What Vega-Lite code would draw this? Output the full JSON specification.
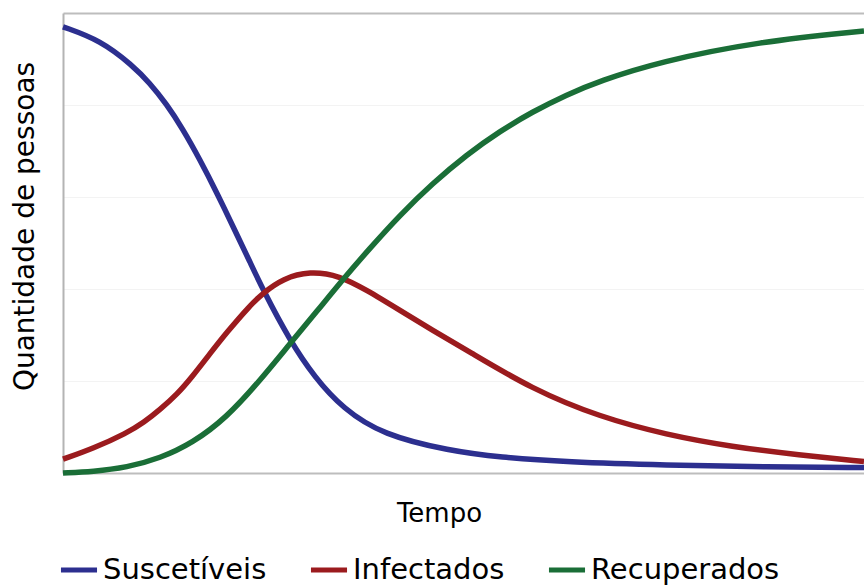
{
  "$schema": "https://vega.github.io/schema/vega-lite/v6.json",
  "width": 801,
  "height": 460,
  "autosize": {"type": "none"},
  "padding": {"left": 63, "top": 13, "right": 0, "bottom": 112},
  "background": "white",
  "config": {
    "view": {"stroke": null},
    "font": "DejaVu Sans"
  },
  "data": {
    "values": [
      {"t": 0.0, "v": 97.0, "g": "Suscetíveis"},
      {"t": 4.6, "v": 94.1, "g": "Suscetíveis"},
      {"t": 8.6, "v": 88.6, "g": "Suscetíveis"},
      {"t": 10.7, "v": 84.8, "g": "Suscetíveis"},
      {"t": 12.8, "v": 80.2, "g": "Suscetíveis"},
      {"t": 14.8, "v": 74.8, "g": "Suscetíveis"},
      {"t": 16.9, "v": 68.2, "g": "Suscetíveis"},
      {"t": 19.0, "v": 61.0, "g": "Suscetíveis"},
      {"t": 21.5, "v": 51.8, "g": "Suscetíveis"},
      {"t": 23.1, "v": 45.9, "g": "Suscetíveis"},
      {"t": 24.7, "v": 39.9, "g": "Suscetíveis"},
      {"t": 28.0, "v": 28.9, "g": "Suscetíveis"},
      {"t": 31.1, "v": 20.8, "g": "Suscetíveis"},
      {"t": 34.6, "v": 14.0, "g": "Suscetíveis"},
      {"t": 39.5, "v": 8.3, "g": "Suscetíveis"},
      {"t": 47.8, "v": 4.8, "g": "Suscetíveis"},
      {"t": 54.0, "v": 3.4, "g": "Suscetíveis"},
      {"t": 62.2, "v": 2.4, "g": "Suscetíveis"},
      {"t": 74.6, "v": 1.7, "g": "Suscetíveis"},
      {"t": 86.9, "v": 1.3, "g": "Suscetíveis"},
      {"t": 99.0, "v": 1.2, "g": "Suscetíveis"},
      {"t": 0.0, "v": 3.0, "g": "Infectados"},
      {"t": 3.7, "v": 5.3, "g": "Infectados"},
      {"t": 7.9, "v": 8.7, "g": "Infectados"},
      {"t": 10.0, "v": 11.0, "g": "Infectados"},
      {"t": 12.0, "v": 13.8, "g": "Infectados"},
      {"t": 14.1, "v": 17.1, "g": "Infectados"},
      {"t": 16.0, "v": 21.0, "g": "Infectados"},
      {"t": 18.1, "v": 25.8, "g": "Infectados"},
      {"t": 20.2, "v": 30.5, "g": "Infectados"},
      {"t": 23.1, "v": 36.4, "g": "Infectados"},
      {"t": 24.7, "v": 39.1, "g": "Infectados"},
      {"t": 27.2, "v": 42.3, "g": "Infectados"},
      {"t": 30.5, "v": 43.9, "g": "Infectados"},
      {"t": 34.2, "v": 42.9, "g": "Infectados"},
      {"t": 37.5, "v": 39.8, "g": "Infectados"},
      {"t": 41.6, "v": 35.4, "g": "Infectados"},
      {"t": 45.7, "v": 31.0, "g": "Infectados"},
      {"t": 49.9, "v": 26.7, "g": "Infectados"},
      {"t": 58.0, "v": 18.2, "g": "Infectados"},
      {"t": 66.3, "v": 12.2, "g": "Infectados"},
      {"t": 74.6, "v": 8.3, "g": "Infectados"},
      {"t": 82.7, "v": 5.7, "g": "Infectados"},
      {"t": 91.0, "v": 3.9, "g": "Infectados"},
      {"t": 99.0, "v": 2.5, "g": "Infectados"},
      {"t": 0.0, "v": 0.0, "g": "Recuperados"},
      {"t": 3.7, "v": 0.3, "g": "Recuperados"},
      {"t": 7.9, "v": 1.2, "g": "Recuperados"},
      {"t": 12.0, "v": 3.2, "g": "Recuperados"},
      {"t": 16.0, "v": 6.5, "g": "Recuperados"},
      {"t": 20.2, "v": 12.0, "g": "Recuperados"},
      {"t": 24.3, "v": 20.0, "g": "Recuperados"},
      {"t": 28.0, "v": 28.0, "g": "Recuperados"},
      {"t": 31.4, "v": 35.2, "g": "Recuperados"},
      {"t": 34.6, "v": 42.1, "g": "Recuperados"},
      {"t": 37.9, "v": 48.8, "g": "Recuperados"},
      {"t": 41.6, "v": 56.0, "g": "Recuperados"},
      {"t": 45.7, "v": 63.0, "g": "Recuperados"},
      {"t": 49.9, "v": 69.2, "g": "Recuperados"},
      {"t": 54.0, "v": 74.3, "g": "Recuperados"},
      {"t": 58.0, "v": 78.5, "g": "Recuperados"},
      {"t": 62.2, "v": 82.2, "g": "Recuperados"},
      {"t": 66.3, "v": 85.2, "g": "Recuperados"},
      {"t": 73.7, "v": 89.4, "g": "Recuperados"},
      {"t": 86.0, "v": 93.8, "g": "Recuperados"},
      {"t": 99.0, "v": 96.1, "g": "Recuperados"}
    ]
  },
  "layer": [
    {
      "mark": {"type": "line", "strokeWidth": 5.5, "interpolate": "basis", "strokeCap": "butt"},
      "encoding": {
        "x": {
          "field": "t", "type": "quantitative",
          "scale": {"domain": [0, 99], "nice": false, "zero": false},
          "axis": {
            "orient": "bottom", "title": "Tempo", "labels": false, "ticks": false, "grid": false,
            "domainColor": "#bdbdbd", "domainWidth": 2,
            "titleFont": "DejaVu Sans", "titleFontSize": 26, "titleFontWeight": "normal", "titleColor": "#000000",
            "titleX": 376, "titleY": 48, "titleBaseline": "alphabetic", "titleAlign": "center"
          }
        },
        "y": {
          "field": "v", "type": "quantitative",
          "scale": {"domain": [0, 100], "nice": false},
          "axis": {
            "title": "Quantidade de pessoas", "labels": false, "ticks": false,
            "values": [20, 40, 60, 80], "grid": true, "gridColor": "#f3f3f3", "gridWidth": 1,
            "domainColor": "#b4b4b4", "domainWidth": 2,
            "titleFont": "DejaVu Sans", "titleFontSize": 28, "titleFontWeight": "normal", "titleColor": "#000000",
            "titleX": -30, "titleY": 213, "titleBaseline": "alphabetic", "titleAngle": 270, "titleAlign": "center"
          }
        },
        "color": {
          "field": "g", "type": "nominal",
          "scale": {"domain": ["Suscetíveis", "Infectados", "Recuperados"], "range": ["#2c2f8f", "#9b1b1e", "#1a6e37"]},
          "legend": {
            "title": null, "orient": "none", "direction": "horizontal",
            "legendX": -5, "legendY": 536,
            "symbolType": "stroke", "symbolSize": 1300, "symbolStrokeWidth": 5,
            "labelFont": "DejaVu Sans", "labelFontSize": 29, "labelColor": "#000000", "labelLimit": 400,
            "labelOffset": 3, "columnPadding": 33
          }
        }
      }
    },
    {
      "mark": {"type": "rule", "strokeOpacity": 0},
      "encoding": {
        "x": {
          "field": "t", "type": "quantitative",
          "axis": {"orient": "top", "title": null, "labels": false, "ticks": false, "grid": false, "domainColor": "#bdbdbd", "domainWidth": 2}
        }
      }
    }
  ],
  "resolve": {"axis": {"x": "independent"}}
}
